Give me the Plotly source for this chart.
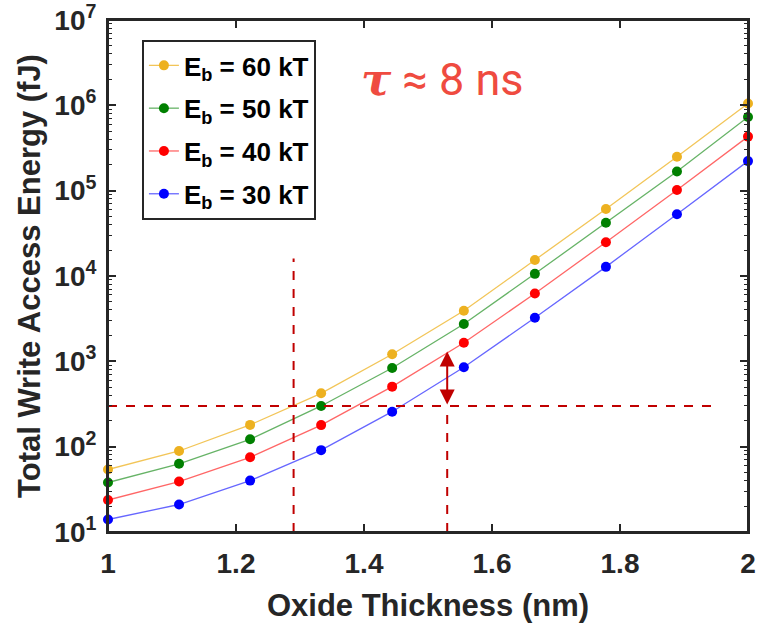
import math
import plotly.graph_objects as go

thickness = [1.0, 1.111, 1.222, 1.333, 1.444, 1.556, 1.667, 1.778, 1.889, 2.0]
energy_60kT = [54, 89, 180, 422, 1210, 3920, 15400, 61000, 250000, 1050000]
energy_50kT = [38, 63, 122, 300, 836, 2740, 10600, 42000, 168000, 730000]
energy_40kT = [23.7, 39, 75, 179, 505, 1650, 6250, 24900, 102000, 430000]
energy_30kT = [14.0, 21, 40, 91, 257, 851, 3240, 12800, 53000, 222000]

series_names = ["E<sub>b</sub> = 60 kT", "E<sub>b</sub> = 50 kT",
                "E<sub>b</sub> = 40 kT", "E<sub>b</sub> = 30 kT"]
series_colors = ["#EDB120", "#008000", "#FF0000", "#0000FF"]
line_colors = ["rgba(237,177,32,0.75)", "rgba(0,128,0,0.6)",
               "rgba(255,0,0,0.6)", "rgba(0,0,255,0.6)"]

ref_energy = 300
ref_x1 = 1.29
ref_x2 = 1.53
ref_x_end = 1.943
ref_top1 = 1.6e4
ref_arrow_top = 1300

ytick_vals = [10, 100, 1000, 1e4, 1e5, 1e6, 1e7]
ytick_text = ["10<sup>1</sup>", "10<sup>2</sup>", "10<sup>3</sup>", "10<sup>4</sup>",
              "10<sup>5</sup>", "10<sup>6</sup>", "10<sup>7</sup>"]
xtick_vals = [1, 1.2, 1.4, 1.6, 1.8, 2]
xtick_text = ["1", "1.2", "1.4", "1.6", "1.8", "2"]
minor_yvals = [m * 10 ** e for e in range(1, 7) for m in range(2, 10)]

FONT = "Liberation Sans, Arial, sans-serif"
AX = "#262626"

fig = go.Figure()
all_series = [energy_60kT, energy_50kT, energy_40kT, energy_30kT]
for i, (name, vals, mc, lc) in enumerate(zip(series_names, all_series, series_colors, line_colors)):
    fig.add_trace(go.Scatter(
        x=thickness, y=vals, name=name, mode="lines+markers",
        legendgroup=f"g{i}", cliponaxis=False,
        line=dict(color=lc, width=1.3),
        marker=dict(color=mc, size=10),
    ))

dash_color = "#C00000"
fig.add_trace(go.Scatter(x=[1.0, ref_x_end], y=[ref_energy, ref_energy], mode="lines",
                         line=dict(color=dash_color, width=2, dash="dash"),
                         showlegend=False, hoverinfo="skip"))
fig.add_trace(go.Scatter(x=[ref_x1, ref_x1], y=[10, ref_top1], mode="lines",
                         line=dict(color=dash_color, width=2, dash="dash"),
                         showlegend=False, hoverinfo="skip"))
fig.add_trace(go.Scatter(x=[ref_x2, ref_x2], y=[10, ref_energy], mode="lines",
                         line=dict(color=dash_color, width=2, dash="dash"),
                         showlegend=False, hoverinfo="skip"))

fig.add_annotation(x=ref_x2, y=math.log10(ref_arrow_top), ax=ref_x2, ay=math.log10(ref_energy),
                   xref="x", yref="y", axref="x", ayref="y", text="",
                   showarrow=True, arrowhead=2, arrowside="end+start",
                   arrowsize=1.5, arrowwidth=2, arrowcolor=dash_color)

fig.add_annotation(x=0.522, y=0.883, xref="paper", yref="paper",
                   text="<span style=\"font-family:'DejaVu Serif'\"><b><i>τ</i></b></span> ≈ 8 ns",
                   showarrow=False,
                   font=dict(family="Roboto, Arial, sans-serif", size=45, color="#EF4B40"),
                   xanchor="center", yanchor="middle")

# plot frame
fig.add_shape(type="rect", xref="paper", yref="paper", x0=0, x1=1, y0=0, y1=1,
              line=dict(color=AX, width=2), fillcolor="rgba(0,0,0,0)", layer="above")

axis_font = dict(family=FONT, size=31, color=AX, weight="bold")
tick_font = dict(family=FONT, size=28, color=AX, weight="bold")
fig.update_layout(
    width=757, height=624,
    margin=dict(l=108, r=9, t=20, b=92),
    paper_bgcolor="white", plot_bgcolor="white",
    font=dict(family=FONT, color=AX),
    showlegend=True,
    legend=dict(x=0.053, y=0.961, xanchor="left", yanchor="top",
                bordercolor=AX, borderwidth=2, bgcolor="white",
                font=dict(family=FONT, size=26, color="black", weight="bold"),
                itemwidth=30, tracegroupgap=6),
    xaxis=dict(range=[1, 2], tickvals=xtick_vals, ticktext=xtick_text,
               ticks="inside", ticklen=8, tickwidth=2, tickcolor=AX,
               showline=True, linewidth=2, linecolor=AX, mirror="ticks",
               showgrid=False, zeroline=False, ticklabelstandoff=5, automargin=False,
               ticklabeloverflow="allow",
               tickfont=tick_font,
               title=dict(text="Oxide Thickness (nm)", font=axis_font, standoff=17)),
    yaxis=dict(type="log", range=[1, 7], tickvals=ytick_vals, ticktext=ytick_text,
               ticks="inside", ticklen=8, tickwidth=2, tickcolor=AX,
               minor=dict(tickmode="array", tickvals=minor_yvals, ticks="inside",
                          ticklen=4, tickwidth=1, tickcolor=AX, showgrid=False),
               showline=True, linewidth=2, linecolor=AX, mirror="ticks",
               showgrid=False, zeroline=False, ticklabelstandoff=4, automargin=False,
               ticklabeloverflow="allow",
               tickfont=tick_font,
               title=dict(text="Total Write Access Energy (fJ)", font=axis_font, standoff=4)),
)

fig.write_html("out.html", config={"displayModeBar": False},
               post_script="document.body.style.margin='0px';document.body.style.overflow='hidden';")
